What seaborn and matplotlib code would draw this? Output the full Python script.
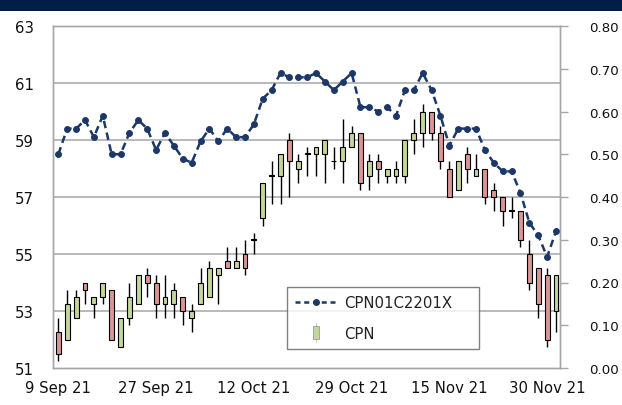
import numpy as np
import pandas as pd
import matplotlib
matplotlib.use('Agg')
import matplotlib.pyplot as plt
from matplotlib.patches import Rectangle
from matplotlib.lines import Line2D
from matplotlib.legend_handler import HandlerBase
import seaborn as sns

# trading days 9 Sep 21 - 1 Dec 21 (SET holidays removed)
holidays = ['2021-09-24', '2021-10-13', '2021-10-22']
days = pd.bdate_range('2021-09-09', '2021-12-01')
days = days[~days.isin(pd.to_datetime(holidays))]

cpn_open = [52.25, 52.0, 52.75, 54.0, 53.25, 53.5, 53.75, 51.75, 52.75, 53.25,
            54.25, 54.0, 53.25, 53.25, 53.5, 52.75, 53.25, 53.5, 54.25, 54.75,
            54.5, 55.0, 55.5, 56.25, 57.75, 57.75, 59.0, 58.0, 58.5, 58.5,
            58.5, 58.25, 58.25, 58.75, 59.25, 57.75, 58.25, 57.75, 57.75, 57.75,
            59.0, 59.25, 60.0, 59.25, 58.0, 57.25, 58.5, 57.75, 58.0, 57.25,
            57.0, 56.5, 56.5, 55.0, 54.5, 54.25, 53.0]
cpn_high = [52.75, 53.75, 53.75, 54.0, 53.5, 54.0, 53.75, 52.75, 54.0, 54.25,
            54.5, 54.25, 54.25, 54.0, 53.5, 53.25, 54.5, 54.75, 54.5, 55.25,
            55.25, 55.5, 55.75, 57.5, 58.25, 58.5, 59.25, 58.5, 58.75, 58.75,
            59.0, 58.75, 59.75, 59.5, 59.25, 58.5, 58.5, 58.0, 58.25, 59.0,
            59.75, 60.25, 60.0, 59.5, 58.25, 58.25, 58.75, 58.5, 58.0, 57.5,
            57.0, 57.0, 56.5, 55.5, 54.5, 54.5, 54.25]
cpn_low = [51.25, 52.0, 52.75, 53.25, 52.75, 53.25, 52.0, 51.75, 52.5, 53.25,
           53.5, 52.75, 52.75, 52.75, 52.5, 52.25, 53.25, 53.5, 53.25, 54.5,
           54.5, 54.25, 55.0, 56.0, 56.75, 56.75, 57.0, 57.5, 57.75, 57.75,
           57.5, 58.0, 57.5, 58.75, 57.25, 57.25, 57.5, 57.5, 57.5, 57.5,
           58.5, 58.75, 59.0, 58.0, 57.0, 57.25, 57.5, 57.75, 56.75, 56.5,
           56.0, 56.25, 55.25, 53.75, 52.75, 51.75, 52.25]
cpn_close = [51.5, 53.25, 53.5, 53.75, 53.5, 54.0, 52.0, 52.75, 53.5, 54.25,
             54.0, 53.25, 53.5, 53.75, 53.0, 53.0, 54.0, 54.5, 54.5, 54.5,
             54.75, 54.5, 55.5, 57.5, 57.75, 58.5, 58.25, 58.25, 58.5, 58.75,
             59.0, 58.25, 58.75, 59.25, 57.5, 58.25, 58.0, 58.0, 58.0, 59.0,
             59.25, 60.0, 59.25, 58.25, 57.0, 58.25, 58.0, 58.0, 57.0, 57.0,
             56.5, 56.5, 55.5, 54.0, 53.25, 52.0, 54.25]
warrant = [0.50, 0.56, 0.56, 0.58, 0.54, 0.59, 0.50, 0.50, 0.55, 0.58,
           0.56, 0.51, 0.55, 0.52, 0.49, 0.48, 0.53, 0.56, 0.53, 0.56,
           0.54, 0.54, 0.57, 0.63, 0.65, 0.69, 0.68, 0.68, 0.68, 0.69,
           0.67, 0.65, 0.67, 0.69, 0.61, 0.61, 0.60, 0.61, 0.59, 0.65,
           0.65, 0.69, 0.65, 0.59, 0.52, 0.56, 0.56, 0.56, 0.51, 0.48,
           0.46, 0.46, 0.41, 0.34, 0.31, 0.26, 0.32]

tick_idx = [0, 11, 22, 33, 44, 55]

GREEN = '#c3d69b'
RED = '#d99694'
NAVY = '#1c3769'
GRID = '#a6a6a6'
FS = 10.7

sns.set_style('white')
plt.rcParams['font.family'] = ['DejaVu Sans']

df = pd.DataFrame({'day': np.arange(len(days)), 'open': cpn_open, 'high': cpn_high,
                   'low': cpn_low, 'close': cpn_close, 'warrant': warrant})

fig = plt.figure(figsize=(6.22, 4.06), dpi=100)
fig.patches.append(Rectangle((0, 394 / 406), 1, 12 / 406, transform=fig.transFigure,
                             facecolor='#001e46', edgecolor='none'))

ax = fig.add_axes([53 / 622, 37 / 406, 507 / 622, 342 / 406])

# candlesticks
x = df['day'].to_numpy()
o = df['open'].to_numpy()
c = df['close'].to_numpy()
body_h = np.abs(c - o)
body_h = np.where(body_h == 0, 0.03, body_h)
colors = [GREEN if cc >= oo else RED for oo, cc in zip(o, c)]
colors = ['black' if cc == oo else col for oo, cc, col in zip(o, c, colors)]
ax.vlines(x, df['low'], df['high'], color='black', lw=1.0, zorder=2)
ax.bar(x, body_h, bottom=np.minimum(o, c), width=0.55, color=colors,
       edgecolor='black', linewidth=0.8, zorder=3)

ax.set_xlim(-0.6, 56.45)
ax.set_ylim(51, 63)
ax.set_yticks(np.arange(51, 64, 2))
ax.set_yticklabels([str(v) for v in range(51, 64, 2)])
ax.set_xticks(tick_idx)
ax.set_xticklabels([f"{days[i].day} {days[i]:%b %y}" for i in tick_idx])
for yv in range(53, 63, 2):
    ax.axhline(yv, color=GRID, lw=1.1, zorder=1)
ax.tick_params(axis='both', length=0, labelsize=FS, colors='#111111')
ax.tick_params(axis='y', pad=14)
ax.tick_params(axis='x', pad=9)
for s in ax.spines.values():
    s.set_color(GRID)
    s.set_linewidth(1.0)

# warrant line on secondary axis
ax2 = ax.twinx()
sns.lineplot(data=df, x='day', y='warrant', ax=ax2, color=NAVY, lw=1.8,
             linestyle=(0, (3, 1.8)), marker='o', markersize=4.2,
             markeredgecolor=NAVY, markerfacecolor=NAVY)
ax2.set_ylim(0, 0.8)
ax2.set_yticks(np.arange(0, 0.81, 0.1))
ax2.set_yticklabels([f"{v:.2f}" for v in np.arange(0, 0.81, 0.1)])
ax2.tick_params(axis='y', length=6, width=1, color=GRID, pad=15, labelsize=9.6,
                labelcolor='#111111')
ax2.set_xlabel('')
ax2.set_ylabel('')
ax.set_xlabel('')
for s in ax2.spines.values():
    s.set_color(GRID)
    s.set_linewidth(1.0)


class CandleHandler(HandlerBase):
    def create_artists(self, legend, orig_handle, xd, yd, width, height, fontsize, trans):
        cx = xd + width / 2
        wick = Line2D([cx, cx], [yd - 0.4 * height, yd + 1.4 * height],
                      color='#c8c8c8', lw=0.8, transform=trans)
        body = Rectangle((cx - 2, yd - 0.1 * height), 4, 1.2 * height,
                         facecolor=GREEN, edgecolor='#9a9a9a', lw=0.6, transform=trans)
        return [wick, body]


line_handle = Line2D([], [], color=NAVY, lw=1.8, linestyle=(0, (2, 1.5)),
                     marker='o', markersize=4, markevery=[1])
candle_handle = Rectangle((0, 0), 1, 1)
leg = ax2.legend([line_handle, candle_handle], ['CPN01C2201X', 'CPN'],
                 handler_map={Rectangle: CandleHandler()},
                 loc='lower left', bbox_to_anchor=(0.4615, 0.0556, 0.3787, 0.196),
                 mode='expand', borderaxespad=0, fontsize=FS, frameon=True,
                 fancybox=False, edgecolor='#606060', handlelength=2.8,
                 handletextpad=0.5, borderpad=0.55, labelspacing=1.05)
leg.get_frame().set_linewidth(1.0)
for t in leg.get_texts():
    t.set_color('#222222')

fig.savefig('out.png', dpi=100)
